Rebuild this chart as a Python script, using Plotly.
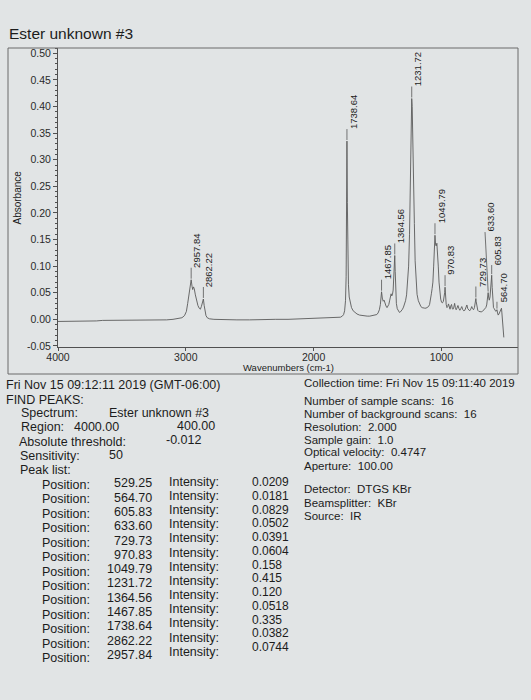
import plotly.graph_objects as go

# ---------------- data ----------------
wavenumber = [4000, 3950, 3900, 3850, 3800, 3750, 3700, 3650, 3600, 3550, 3500, 3450, 3400, 3350, 3300,
              3250, 3200, 3150, 3100, 3060, 3030, 3010, 2995, 2985, 2975, 2965, 2957.84, 2951, 2946, 2940,
              2934, 2925, 2915, 2905, 2895, 2886, 2878, 2870, 2862.22, 2856, 2850, 2842, 2832, 2815, 2780,
              2700, 2600, 2500, 2400, 2300, 2200, 2100, 2000, 1950, 1900, 1850, 1810, 1790, 1775, 1765,
              1757, 1750, 1745, 1741, 1738.64, 1735.5, 1732, 1727, 1721, 1713, 1703, 1690, 1675, 1660, 1640,
              1620, 1600, 1580, 1560, 1540, 1520, 1505, 1495, 1485, 1477, 1472, 1467.85, 1462, 1455, 1448,
              1441, 1433, 1425, 1418, 1411, 1404, 1398, 1393, 1388, 1383, 1377, 1371, 1367, 1364.56, 1361,
              1357, 1352, 1345, 1337, 1328, 1320, 1312, 1304, 1296, 1288, 1280, 1272, 1264, 1256, 1249,
              1243, 1238, 1234, 1231.72, 1228, 1223, 1217, 1211, 1205, 1198, 1190, 1180, 1170, 1160, 1150,
              1140, 1130, 1120, 1110, 1100, 1092, 1085, 1078, 1072, 1066, 1060, 1055, 1049.79, 1045, 1040,
              1035, 1030, 1024, 1018, 1012, 1005, 998, 991, 984, 978, 974, 970.83, 967, 962, 956,
              950, 944, 938, 932, 926, 920, 914, 908, 902, 896, 890, 884, 878, 870, 862,
              855, 848, 840, 832, 824, 816, 808, 800, 793, 786, 778, 770, 762, 755, 748,
              741, 736, 731.5, 729.73, 727, 722, 715, 707, 698, 688, 678, 668, 660, 652, 645,
              640, 636.5, 633.60, 630, 625, 619, 614, 609.5, 605.83, 602, 598, 592, 586, 580, 574,
              569, 564.70, 560, 555, 549, 543, 537, 532, 529.25, 526, 523, 520, 517, 514, 511]
absorbance = [-0.004, -0.004, -0.004, -0.003, -0.003, -0.003, -0.003, -0.002, -0.002, -0.001, -0.001, -0.002, -0.002, -0.002, -0.002,
              -0.001, -0.001, -0.001, 0.000, 0.001, 0.003, 0.007, 0.015, 0.030, 0.050, 0.068, 0.0744, 0.062, 0.056, 0.061,
              0.058, 0.046, 0.035, 0.026, 0.021, 0.019, 0.024, 0.033, 0.0382, 0.026, 0.014, 0.007, 0.003, 0.001, 0.000,
              -0.001, -0.001, -0.001, 0.000, 0.000, 0.000, 0.001, 0.002, 0.002, 0.003, 0.003, 0.004, 0.004, 0.006, 0.009,
              0.016, 0.035, 0.080, 0.180, 0.335, 0.220, 0.120, 0.065, 0.042, 0.030, 0.022, 0.016, 0.012, 0.010, 0.008,
              0.007, 0.006, 0.006, 0.006, 0.007, 0.007, 0.009, 0.012, 0.018, 0.028, 0.040, 0.0518, 0.040, 0.034, 0.036,
              0.030, 0.025, 0.022, 0.024, 0.028, 0.036, 0.046, 0.048, 0.044, 0.046, 0.055, 0.080, 0.105, 0.120, 0.090,
              0.050, 0.030, 0.020, 0.015, 0.013, 0.014, 0.016, 0.019, 0.023, 0.028, 0.035, 0.046, 0.066, 0.100, 0.160,
              0.250, 0.340, 0.395, 0.415, 0.400, 0.350, 0.270, 0.180, 0.110, 0.070, 0.047, 0.035, 0.028, 0.024, 0.022,
              0.021, 0.021, 0.021, 0.022, 0.024, 0.028, 0.036, 0.048, 0.058, 0.070, 0.100, 0.135, 0.158, 0.140, 0.138,
              0.143, 0.130, 0.100, 0.070, 0.050, 0.038, 0.032, 0.031, 0.034, 0.040, 0.050, 0.0604, 0.042, 0.028, 0.022,
              0.024, 0.029, 0.021, 0.019, 0.025, 0.028, 0.020, 0.019, 0.023, 0.030, 0.022, 0.018, 0.021, 0.026, 0.020,
              0.017, 0.020, 0.024, 0.018, 0.016, 0.017, 0.022, 0.027, 0.020, 0.017, 0.016, 0.019, 0.024, 0.020, 0.018,
              0.022, 0.028, 0.036, 0.0391, 0.033, 0.022, 0.017, 0.015, 0.014, 0.014, 0.015, 0.017, 0.019, 0.022, 0.027,
              0.034, 0.045, 0.0502, 0.042, 0.036, 0.042, 0.055, 0.072, 0.0829, 0.060, 0.035, 0.022, 0.020, 0.017, 0.015,
              0.016, 0.0181, 0.012, 0.008, 0.010, 0.014, 0.018, 0.020, 0.0209, 0.012, 0.000, -0.012, -0.022, -0.030, -0.034]

peak_positions = [529.25, 564.70, 605.83, 633.60, 729.73, 970.83, 1049.79, 1231.72, 1364.56, 1467.85, 1738.64, 2862.22, 2957.84]
peak_intensities = [0.0209, 0.0181, 0.0829, 0.0502, 0.0391, 0.0604, 0.158, 0.415, 0.120, 0.0518, 0.335, 0.0382, 0.0744]
peak_labels = ["529.25", "564.70", "605.83", "633.60", "729.73", "970.83", "1049.79", "1231.72", "1364.56",
               "1467.85", "1738.64", "2862.22", "2957.84"]
intensity_text = ["0.0209", "0.0181", "0.0829", "0.0502", "0.0391", "0.0604", "0.158", "0.415", "0.120",
                  "0.0518", "0.335", "0.0382", "0.0744"]

y_ticks = [0.50, 0.45, 0.40, 0.35, 0.30, 0.25, 0.20, 0.15, 0.10, 0.05, 0.00, -0.05]
y_ticktext = ["0.50", "0.45", "0.40", "0.35", "0.30", "0.25", "0.20", "0.15", "0.10", "0.05", "0.00", "-0.05"]
x_ticks = [4000, 3000, 2000, 1000]

info_lines = ["Collection time: Fri Nov 15 09:11:40 2019",
              "Number of sample scans:  16",
              "Number of background scans:  16",
              "Resolution:  2.000",
              "Sample gain:  1.0",
              "Optical velocity:  0.4747",
              "Aperture:  100.00",
              "Detector:  DTGS KBr",
              "Beamsplitter:  KBr",
              "Source:  IR"]

# ---------------- layout helpers ----------------
W, H = 531, 700
L, R, T, B = 58, 518, 48, 347
FONT = "Liberation Sans, Arial, sans-serif"
INK = "#1c1c1c"
LINE = "#505050"
BG = "#e1e4e5"


def P(x, y):
    return (x - L) / (R - L), (B - y) / (B - T)


annotations = []


def txt(x, y, s, size, anchor="left", angle=0):
    px, py = P(x, y)
    annotations.append(dict(x=px, y=py, xref="paper", yref="paper", text=s, showarrow=False,
                            xanchor=anchor, yanchor="middle", textangle=angle,
                            font=dict(family=FONT, size=size, color=INK)))


fig = go.Figure()
fig.add_trace(go.Scatter(x=wavenumber, y=absorbance, mode="lines",
                         line=dict(color="#5a5a5a", width=0.9), hoverinfo="skip"))

# peak labels with leader lines
label_gap = 0.0226
label_override = {"633.60": (658, 0.164), "605.83": (605.83, 0.102), "564.70": (564.70, 0.033)}
shapes = []
for wn, inten, lab in zip(peak_positions, peak_intensities, peak_labels):
    if lab == "529.25":
        continue
    lx, ly = label_override.get(lab, (wn, inten + label_gap))
    shapes.append(dict(type="line", xref="x", yref="y", x0=wn, y0=inten + 0.002, x1=lx, y1=ly,
                       line=dict(color="#555555", width=0.8)))
    annotations.append(dict(x=lx, y=ly, xref="x", yref="y", text=lab, showarrow=False,
                            textangle=-90, xanchor="center", yanchor="bottom", xshift=6, yshift=-2,
                            font=dict(family=FONT, size=9.5, color=INK)))

# outer box around plot
bx0, by0 = P(8, 374)
shapes.append(dict(type="rect", xref="paper", yref="paper", x0=bx0, y0=by0, x1=1, y1=1,
                   line=dict(color="#6a6a6a", width=1)))

# titles
txt(7, 33, "Ester unknown #3", 15.5)
txt(17, 197.5, "Absorbance", 10, anchor="center", angle=-90)
txt(288, 367, "Wavenumbers (cm-1)", 9.5, anchor="center")

# left text block
txt(4, 385, "Fri Nov 15 09:12:11 2019 (GMT-06:00)", 12.5)
txt(4, 400, "FIND PEAKS:", 12.5)
txt(19, 413, "Spectrum:", 12.5)
txt(107, 413, "Ester unknown #3", 12.5)
txt(19, 427, "Region:", 12.5)
txt(72, 427, "4000.00", 12.5)
txt(175, 426, "400.00", 12.5)
txt(17, 442, "Absolute threshold:", 12.5)
txt(164, 440, "-0.012", 12.5)
txt(18, 456, "Sensitivity:", 12.5)
txt(107, 455, "50", 12.5)
txt(18, 470, "Peak list:", 12.5)

for i, (lab, itxt) in enumerate(zip(peak_labels, intensity_text)):
    txt(40, 485 + i * 14.42, "Position:", 12.5)
    txt(154, 483.3 + i * 14.3, lab, 12.5, anchor="right")
    txt(167, 481.7 + i * 14.17, "Intensity:", 12.5)
    txt(250, 482 + i * 13.75, itxt, 12)

# right text block
info_y = [383.3, 401, 414, 426.7, 440, 452.3, 465.7, 489.3, 502.7, 515.7]
for yy, s in zip(info_y, info_lines):
    txt(302, yy, s, 11.5)

fig.update_layout(
    width=W, height=H,
    margin=dict(l=L, r=W - R, t=T, b=H - B),
    paper_bgcolor=BG, plot_bgcolor=BG,
    showlegend=False,
    shapes=shapes,
    annotations=annotations,
    xaxis=dict(range=[4000, 400], tickvals=x_ticks, ticks="outside", ticklen=3, tickcolor=LINE,
               showline=True, linecolor=LINE, linewidth=1, showgrid=False, zeroline=False,
               ticklabelstandoff=-3,
               tickfont=dict(family=FONT, size=10.5, color="#2a2a2a")),
    yaxis=dict(range=[-0.052, 0.51], tickvals=y_ticks, ticktext=y_ticktext, ticks="outside", ticklen=4,
               tickcolor=LINE, showline=True, linecolor=LINE, linewidth=1, showgrid=False, zeroline=False,
               minor=dict(dtick=0.01, tick0=0, ticks="outside", ticklen=2, tickcolor=LINE),
               tickfont=dict(family=FONT, size=10.5, color="#2a2a2a")),
)

fig.write_html("out.html")
